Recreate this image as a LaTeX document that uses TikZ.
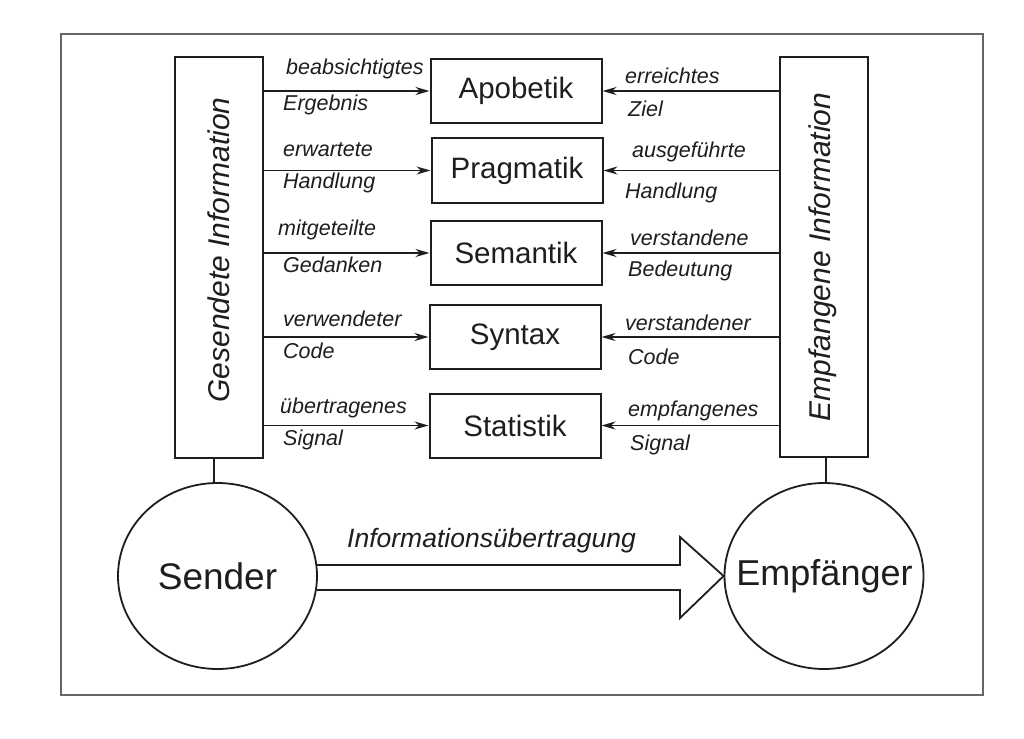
\documentclass[tikz,border=0pt]{standalone}
\usepackage{fontspec}
\setmainfont{Liberation Sans}
\usetikzlibrary{arrows.meta,shapes.geometric,calc}
\definecolor{ink}{HTML}{1E1E1E}
\begin{document}
\begin{tikzpicture}[x=1pt,y=-1pt,
  every node/.style={text=ink},
  sidebox/.style={draw=ink,line width=2pt,minimum width=88pt,minimum height=400pt,inner sep=0pt},
  levelbox/.style={draw=ink,line width=2pt,minimum width=171pt,minimum height=64pt,inner sep=0pt,
    font=\fontsize{29.5}{33}\selectfont},
  sidetext/.style={rotate=90,font=\itshape\fontsize{30}{34}\selectfont},
  lbl/.style={anchor=base west,inner sep=0pt,font=\itshape\fontsize{21.5}{24}\selectfont},
  arr/.style={draw=ink,line width=1.8pt,-{Stealth[length=14pt,width=8pt,inset=4.5pt]}},
  conn/.style={draw=ink,line width=1.8pt},
  party/.style={ellipse,draw=ink,line width=1.8pt,minimum width=199pt,minimum height=186pt,inner sep=0pt},
  partytext/.style={font=\fontsize{37}{40}\selectfont,inner sep=0pt},
  shaft/.style={draw=ink,line width=1.8pt,line join=miter}]
\useasboundingbox (0,0) rectangle (1024,738);
\fill[white] (0,0) rectangle (1024,738);
\draw[gray!80!black,line width=1.4pt] (61,34) rectangle (983,695);

% side boxes
\node[sidebox] (lbox) at (219,257.5) {};
\node[sidebox] (rbox) at (823.5,257) {};
\node[sidetext] (ltext) at (219,250) {Gesendete Information};
\node[sidetext] (rtext) at (823,257) {Empfangene Information};

% level boxes
\node[levelbox] (apo)  at (516,91)  {Apobetik};
\node[levelbox] (prag) at (517,170.5) {Pragmatik};
\node[levelbox] (sem)  at (516,253) {Semantik};
\node[levelbox] (syn)  at (515,337) {Syntax};
\node[levelbox] (stat) at (515,425.5) {Statistik};

% arrows
\foreach \b in {apo,prag,sem,syn,stat}{
  \draw[arr] (lbox.east |- \b.west) -- (\b.west);
  \draw[arr] (rbox.west |- \b.east) -- (\b.east);
}

% left labels
\node[lbl] (l1a) at (286,75)  {beabsichtigtes};
\node[lbl] (l1b) at (283,111) {Ergebnis};
\node[lbl] (l2a) at (283,157) {erwartete};
\node[lbl] (l2b) at (283,188) {Handlung};
\node[lbl] (l3a) at (278,235) {mitgeteilte};
\node[lbl] (l3b) at (283,272) {Gedanken};
\node[lbl] (l4a) at (283,326) {verwendeter};
\node[lbl] (l4b) at (283,358) {Code};
\node[lbl] (l5a) at (280,413) {übertragenes};
\node[lbl] (l5b) at (283,445) {Signal};

% right labels
\node[lbl] (r1a) at (625,84)  {erreichtes};
\node[lbl] (r1b) at (628,117) {Ziel};
\node[lbl] (r2a) at (632,158) {ausgeführte};
\node[lbl] (r2b) at (625,198) {Handlung};
\node[lbl] (r3a) at (630,245) {verstandene};
\node[lbl] (r3b) at (628,276) {Bedeutung};
\node[lbl] (r4a) at (625,330) {verstandener};
\node[lbl] (r4b) at (628,364) {Code};
\node[lbl] (r5a) at (628,416) {empfangenes};
\node[lbl] (r5b) at (630,450) {Signal};

% sender / receiver
\node[party] (snd) at (217.5,576) {};
\node[party] (emp) at (824,576) {};
\node[partytext] (sndt) at (217.5,576) {Sender};
\node[partytext,font=\fontsize{36}{40}\selectfont] (empt) at (824.5,576) {Empfänger};
\draw[conn] (snd.north -| 214,0) -- (lbox.south -| 214,0);
\draw[conn] (emp.north -| 826,0) -- (rbox.south -| 826,0);

% transmission arrow
\coordinate (h1) at (680,565);
\coordinate (h2) at (680,537);
\coordinate (h3) at (680,618);
\coordinate (h4) at (680,590);
\draw[shaft] ($(snd.east)+(-1,-11)$) -- (h1) -- (h2) -- (emp.west) -- (h3) -- (h4) -- ($(snd.east)+(-1,14)$);
\node[anchor=base west,inner sep=0pt,font=\itshape\fontsize{26.5}{30}\selectfont] (tr) at (347,547) {Informationsübertragung};
\end{tikzpicture}
\end{document}
